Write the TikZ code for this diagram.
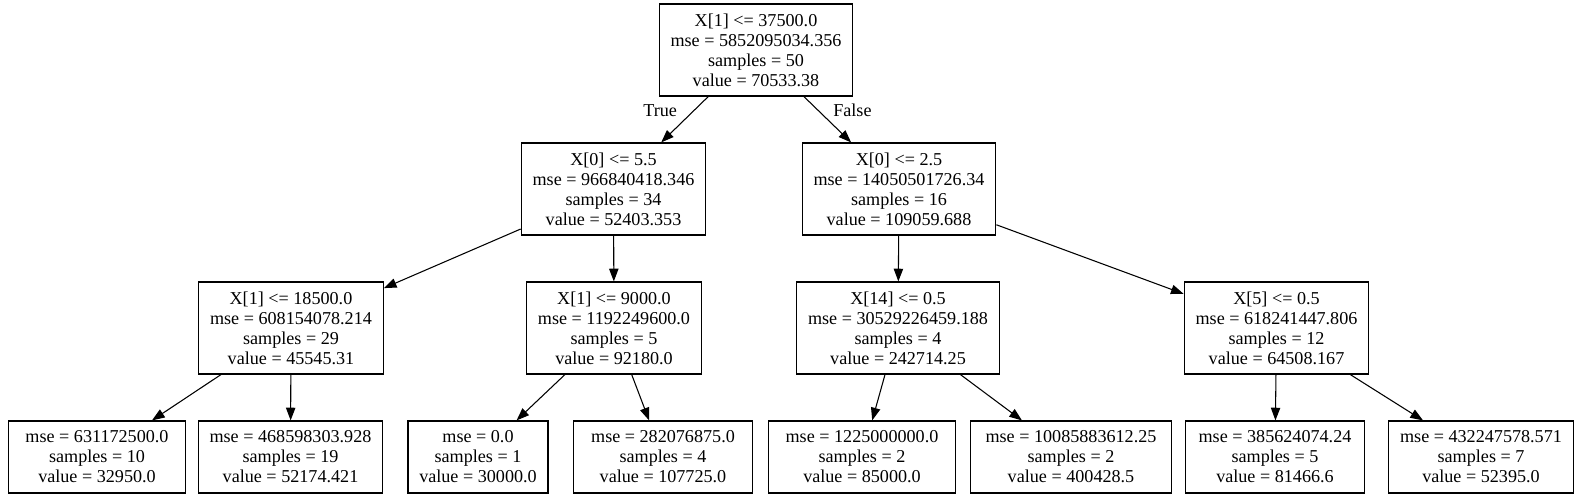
\documentclass[tikz,border=0pt]{standalone}
\usepackage{fontspec}
\setmainfont{Liberation Serif}
\usepackage{tikz}
\usetikzlibrary{arrows.meta}

\begin{document}
\begin{tikzpicture}[x=0.75pt,y=0.75pt,yscale=-1,xscale=1,
    split/.style={draw,line width=0.9pt,rectangle,align=center,inner xsep=8.5pt,minimum height=69pt,font=\fontsize{13.6}{15}\selectfont},
    leaf/.style={split,minimum height=54pt},
    edge/.style={line width=0.8pt,-{Triangle[length=9.5pt,width=7pt]}},
    lbl/.style={font=\fontsize{13.6}{15}\selectfont,inner sep=0pt}]
        \useasboundingbox (0,0) rectangle (1581,499);

        % Root
        \node [split] (root) at (756,50) {X[1] <= 37500.0\\mse = 5852095034.356\\samples = 50\\value = 70533.38};

        % Depth 1
        \node [split] (nL) at (613.5,189) {X[0] <= 5.5\\mse = 966840418.346\\samples = 34\\value = 52403.353};
        \node [split] (nR) at (899,189) {X[0] <= 2.5\\mse = 14050501726.34\\samples = 16\\value = 109059.688};

        % Depth 2
        \node [split] (nLL) at (291,328) {X[1] <= 18500.0\\mse = 608154078.214\\samples = 29\\value = 45545.31};
        \node [split] (nLR) at (614,328) {X[1] <= 9000.0\\mse = 1192249600.0\\samples = 5\\value = 92180.0};
        \node [split] (nRL) at (898,328) {X[14] <= 0.5\\mse = 30529226459.188\\samples = 4\\value = 242714.25};
        \node [split] (nRR) at (1276.5,328) {X[5] <= 0.5\\mse = 618241447.806\\samples = 12\\value = 64508.167};

        % Leaves
        \node [leaf,minimum width=133pt] (leaf1) at (97,457) {mse = 631172500.0\\samples = 10\\value = 32950.0};
        \node [leaf] (leaf2) at (290.5,457) {mse = 468598303.928\\samples = 19\\value = 52174.421};
        \node [leaf] (leaf3) at (478,457) {mse = 0.0\\samples = 1\\value = 30000.0};
        \node [leaf,minimum width=134pt] (leaf4) at (663,457) {mse = 282076875.0\\samples = 4\\value = 107725.0};
        \node [leaf,minimum width=140.5pt] (leaf5) at (862,457) {mse = 1225000000.0\\samples = 2\\value = 85000.0};
        \node [leaf,minimum width=150.5pt] (leaf6) at (1071,457) {mse = 10085883612.25\\samples = 2\\value = 400428.5};
        \node [leaf,minimum width=134pt] (leaf7) at (1275,457) {mse = 385624074.24\\samples = 5\\value = 81466.6};
        \node [leaf] (leaf8) at (1481,457) {mse = 432247578.571\\samples = 7\\value = 52395.0};

        % Edges
        \draw [edge] (root) -- node [lbl,pos=0.3,anchor=east,xshift=-12.5pt] (lTrue) {True} (nL);
        \draw [edge] (root) -- node [lbl,pos=0.3,anchor=west,xshift=11pt] (lFalse) {False} (nR);
        \draw [edge] (nL) -- (nLL);
        \draw [edge] (nL) -- (nLR);
        \draw [edge] (nR) -- (nRL);
        \draw [edge] (nR) -- (nRR);
        \draw [edge] (nLL) -- (leaf1);
        \draw [edge] (nLL) -- (leaf2);
        \draw [edge] (nLR) -- (leaf3);
        \draw [edge] (nLR) -- (leaf4);
        \draw [edge] (nRL) -- (leaf5);
        \draw [edge] (nRL) -- (leaf6);
        \draw [edge] (nRR) -- (leaf7);
        \draw [edge] (nRR) -- (leaf8);

\end{tikzpicture}
\end{document}
